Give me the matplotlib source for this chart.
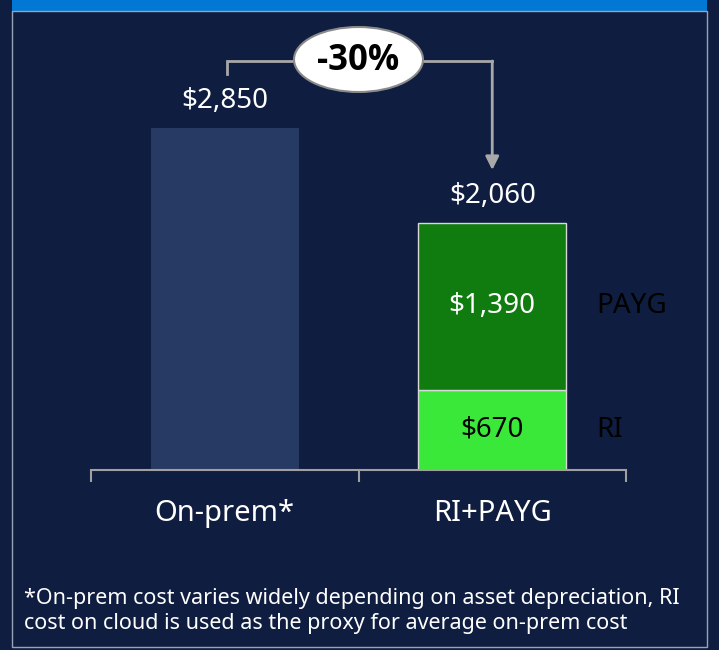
import matplotlib
matplotlib.use("Agg")
import matplotlib.pyplot as plt
from matplotlib.patches import Ellipse, Rectangle

plt.rcParams['font.family'] = ['Noto Sans', 'DejaVu Sans']

categories = ["On-prem*", "RI+PAYG"]
onprem_total = 2850
ri_value = 670
payg_value = 1390
cloud_total = ri_value + payg_value
segment_labels = ["RI", "PAYG"]
change_label = "-30%"
footnote = ("*On-prem cost varies widely depending on asset depreciation, RI\n"
            "cost on cloud is used as the proxy for average on-prem cost")

BG = "#0f1d40"
W, H = 719, 650
fig = plt.figure(figsize=(W / 100, H / 100), dpi=100, facecolor=BG)


def px(x, y):
    return x / W, 1 - y / H


fig.patches.append(Rectangle(px(12, 11), (707 - 12) / W, 11 / H, transform=fig.transFigure,
                             facecolor="#0078d4", edgecolor="none"))
x0, y0 = px(12, 647)
fig.patches.append(Rectangle((x0, y0), (707 - 12) / W, (647 - 11) / H, transform=fig.transFigure,
                             facecolor="none", edgecolor="#9aa3b5", linewidth=1.0))

ax = fig.add_axes([91 / W, (H - 470) / H, 535 / W, 450 / H])
ax.set_facecolor("none")
ax.set_xlim(-0.5, 1.5)
ax.set_ylim(0, 3750)
for s in ["top", "left", "right"]:
    ax.spines[s].set_visible(False)
ax.spines["bottom"].set_color("#a0a0a0")
ax.spines["bottom"].set_linewidth(1.5)
ax.set_yticks([])
ax.set_xticks([-0.5, 0.5, 1.5])
ax.set_xticklabels([])
ax.tick_params(axis="x", direction="out", length=8.5, width=1.5, color="#a0a0a0")

bw = 0.553
ax.bar(0, onprem_total, width=bw, color="#263a63", edgecolor="none")
ax.bar(1, ri_value, width=bw, color="#3ae83a", edgecolor="#d8d8d8", linewidth=1)
ax.bar(1, payg_value, bottom=ri_value, width=bw, color="#107c10", edgecolor="#d8d8d8", linewidth=1)

ax.text(0, onprem_total + 110, f"${onprem_total:,}", ha="center", va="bottom", color="white", fontsize=20)
ax.text(1, cloud_total + 110, f"${cloud_total:,}", ha="center", va="bottom", color="white", fontsize=20)
ax.text(1, ri_value + payg_value / 2, f"${payg_value:,}", ha="center", va="center", color="white", fontsize=20)
ax.text(1, ri_value / 2, f"${ri_value:,}", ha="center", va="center", color="black", fontsize=20)
ax.text(1.39, ri_value + payg_value / 2, segment_labels[1], ha="left", va="center", color="black", fontsize=20)
ax.text(1.39, ri_value / 2, segment_labels[0], ha="left", va="center", color="black", fontsize=20)

for i, c in enumerate(categories):
    ax.text(i, -360, c, ha="center", va="center", color="white", fontsize=21)

# bracket arrow
y_top = (470 - 61) / 0.12
y_start = (470 - 74) / 0.12
ax.plot([0.01, 0.01, 1.0], [y_start, y_top, y_top], color="#a8a8a8", lw=2, clip_on=False,
        solid_joinstyle="miter")
ax.annotate("", xy=(1.0, (470 - 170) / 0.12), xytext=(1.0, y_top),
            arrowprops=dict(arrowstyle="-|>,head_length=0.8,head_width=0.4", color="#a8a8a8", lw=2,
                            shrinkA=0, shrinkB=0), annotation_clip=False)
ex, ey = px(358.5, 59.5)
fig.patches.append(Ellipse((ex, ey), 129 / W, 65 / H, transform=fig.transFigure,
                           facecolor="white", edgecolor="#8a8a8a", linewidth=1.5, zorder=5))
fig.text(ex, ey - 0.002, change_label, ha="center", va="center", color="black",
         fontsize=25, fontweight="bold", family=["Open Sans", "DejaVu Sans"], zorder=6)

fig.text(24 / W, 1 - 611 / H, footnote, ha="left", va="center", color="white",
         fontsize=15.5, linespacing=1.2)

fig.savefig("out.png", dpi=100, facecolor=BG)
